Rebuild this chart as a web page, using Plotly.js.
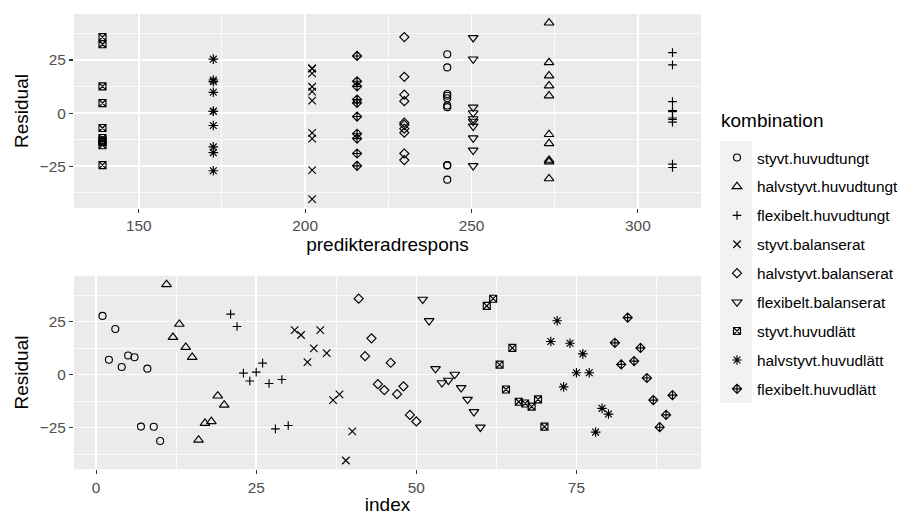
<!DOCTYPE html>
<html><head><meta charset="utf-8">
<script src="https://cdn.plot.ly/plotly-3.0.1.min.js"></script>
<style>html,body{margin:0;padding:0;background:#fff}#plot{width:913px;height:515px}</style>
</head><body><div id="plot"></div>
<script>
// group names (legend order)
const kombinationer = [
  "styvt.huvudtungt", "halvstyvt.huvudtungt", "flexibelt.huvudtungt",
  "styvt.balanserat", "halvstyvt.balanserat", "flexibelt.balanserat",
  "styvt.huvudlätt", "halvstyvt.huvudlätt", "flexibelt.huvudlätt"
];
// predicted response (cell mean) per group
const prediktion = [242.7, 273.3, 310.4, 202.1, 229.8, 250.5, 139.1, 172.4, 215.6];
// residuals per group, in observation (index) order
const res_styvt_huvudtungt     = [27.7, 7.0, 21.5, 3.6, 9.0, 8.2, -24.5, 2.8, -24.6, -31.3];
const res_halvstyvt_huvudtungt = [42.5, 17.6, 23.8, 12.9, 8.2, -30.8, -22.9, -22.1, -10.0, -14.3];
const res_flexibelt_huvudtungt = [28.5, 22.7, 0.7, -3.0, 1.2, 5.4, -4.2, -25.6, -2.3, -24.0];
const res_styvt_balanserat     = [21.0, 18.7, 5.9, 12.4, 21.0, 10.1, -12.0, -9.3, -40.5, -26.8];
const res_halvstyvt_balanserat = [35.8, 8.7, 17.1, -4.5, -7.3, 5.6, -9.2, -5.5, -19.0, -22.1];
const res_flexibelt_balanserat = [35.5, 25.4, 2.8, -3.9, -2.7, 0.1, -6.2, -11.7, -17.5, -24.8];
const res_styvt_huvudlatt      = [32.4, 35.8, 4.7, -7.0, 12.6, -12.8, -13.6, -15.1, -11.7, -24.5];
const res_halvstyvt_huvudlatt  = [15.6, 25.4, -5.8, 14.8, 0.9, 9.8, 0.9, -27.1, -15.9, -18.6];
const res_flexibelt_huvudlatt  = [15.0, 4.8, 26.9, 6.4, 12.6, -1.6, -12.0, -24.8, -19.0, -9.7];
const residualer = [
  res_styvt_huvudtungt, res_halvstyvt_huvudtungt, res_flexibelt_huvudtungt,
  res_styvt_balanserat, res_halvstyvt_balanserat, res_flexibelt_balanserat,
  res_styvt_huvudlatt, res_halvstyvt_huvudlatt, res_flexibelt_huvudlatt
];
// tick values
const xTicksTop = [150, 200, 250, 300];
const xTicksBottom = [0, 25, 50, 75];
const yTicks = [-25, 0, 25];

const symbols = ["circle-open", "triangle-up-open", "cross-thin-open", "x-thin-open",
  "diamond-open", "triangle-down-open", "square-x-open", "asterisk-open", "diamond-cross-open"];
const sizes = [7, 8.5, 6.2, 7.5, 7, 8.5, 7, 8, 7];

const traces = [];
let idx = 1;
kombinationer.forEach((name, g) => {
  const res = residualer[g];
  const xs = res.map(() => prediktion[g]);
  const ind = res.map(() => idx++);
  const marker = {symbol: symbols[g], size: sizes[g], color: "black", line: {color: "black", width: 1.15}};
  traces.push({type: "scatter", mode: "markers", name: name, legendgroup: name,
    x: xs, y: res, xaxis: "x", yaxis: "y", marker: marker, showlegend: true, hoverinfo: "none"});
  traces.push({type: "scatter", mode: "markers", name: name, legendgroup: name,
    x: ind, y: res, xaxis: "x2", yaxis: "y2", marker: marker, showlegend: false, hoverinfo: "none"});
});

// ggplot-like 5% expansion
function expand(arr) {
  const mn = Math.min(...arr), mx = Math.max(...arr), d = (mx - mn) * 0.05;
  return [mn - d, mx + d];
}
const allRes = residualer.flat();
const yRange = expand(allRes);
const xRangeTop = expand(prediktion);
const xRangeBottom = expand([1, allRes.length]);

const W = 913, H = 515;
const tickFont = {family: "Liberation Sans, Arial, sans-serif", size: 15.4, color: "#4D4D4D"};
const titleFont = {family: "Liberation Sans, Arial, sans-serif", size: 19, color: "#000000"};
const common = {
  showgrid: true, gridcolor: "#FFFFFF", gridwidth: 1.6, zeroline: false, showline: false,
  ticks: "outside", ticklen: 4, tickwidth: 1.1, tickcolor: "#333333", tickfont: tickFont,
  automargin: false
};
const xDom = [74 / W, 701 / W];
const layout = {
  width: W, height: H,
  margin: {l: 0, r: 0, t: 0, b: 0},
  paper_bgcolor: "#FFFFFF", plot_bgcolor: "#EBEBEB",
  showlegend: true,
  xaxis: Object.assign({}, common, {domain: xDom, range: xRangeTop, tickvals: xTicksTop,
    minor: {dtick: 25, tick0: 0, showgrid: true, gridcolor: "#FFFFFF", gridwidth: 0.8, ticks: ""},
    anchor: "y", title: {text: "predikteradrespons", font: titleFont, standoff: 4}}),
  yaxis: Object.assign({}, common, {domain: [1 - 208 / H, 1 - 14 / H], range: yRange, tickvals: yTicks,
    minor: {dtick: 12.5, tick0: 0, showgrid: true, gridcolor: "#FFFFFF", gridwidth: 0.8, ticks: ""},
    anchor: "x", title: {text: "Residual", font: titleFont, standoff: 6}}),
  xaxis2: Object.assign({}, common, {domain: xDom, range: xRangeBottom, tickvals: xTicksBottom,
    minor: {dtick: 12.5, tick0: 0, showgrid: true, gridcolor: "#FFFFFF", gridwidth: 0.8, ticks: ""},
    anchor: "y2", title: {text: "index", font: titleFont, standoff: 4}}),
  yaxis2: Object.assign({}, common, {domain: [1 - 469.3 / H, 1 - 275.7 / H], range: yRange, tickvals: yTicks,
    minor: {dtick: 12.5, tick0: 0, showgrid: true, gridcolor: "#FFFFFF", gridwidth: 0.8, ticks: ""},
    anchor: "x2", title: {text: "Residual", font: titleFont, standoff: 6}}),
  legend: {x: 717 / W, xanchor: "left", y: 1 - 141 / H, yanchor: "top",
    bgcolor: "rgba(0,0,0,0)", borderwidth: 0, tracegroupgap: 5.9,
    font: {family: "Liberation Sans, Arial, sans-serif", size: 15.4, color: "#000000"},
    itemclick: false, itemdoubleclick: false},
  shapes: [{type: "rect", xref: "paper", yref: "paper", x0: 720 / W, x1: 752 / W,
    y0: 1 - 403 / H, y1: 1 - 141 / H, fillcolor: "#F2F2F2", line: {width: 0}, layer: "below"}],
  annotations: [{text: "kombination", xref: "paper", yref: "paper", x: 719 / W, y: 1 - 120 / H,
    xanchor: "left", yanchor: "middle", showarrow: false, font: titleFont}]
};
Plotly.newPlot("plot", traces, layout, {displayModeBar: false, staticPlot: true});
</script></body></html>
